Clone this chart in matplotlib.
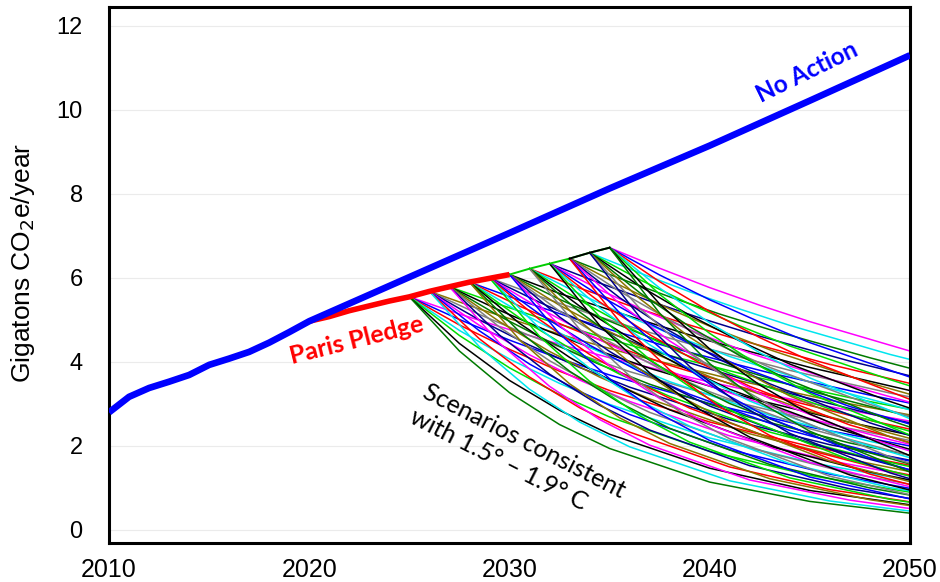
import matplotlib.pyplot as plt

# No Action path (Gt CO2e/yr)
na_years = [2010, 2011, 2012, 2013, 2014, 2015, 2016, 2017, 2018, 2019, 2020,
            2025, 2030, 2035, 2040, 2045, 2050]
na_values = [2.80, 3.17, 3.38, 3.53, 3.69, 3.93, 4.08, 4.24, 4.46, 4.71, 4.97,
             6.02, 7.07, 8.13, 9.15, 10.22, 11.30]

# Paris pledge path
pp_years = [2020, 2021, 2022, 2024, 2025, 2026, 2028, 2030]
pp_values = [4.97, 5.08, 5.22, 5.45, 5.55, 5.68, 5.90, 6.08]

# continuation of pledge path up to the last departure year
ext_years = [2030, 2031, 2032, 2033, 2034, 2035]
ext_values = [6.08, 6.22, 6.34, 6.46, 6.60, 6.72]

# scenarios: one row per pathway; values at departure, +2.5, +5, +7.5, +10 yr,
# then every 5 years, ending at 2050
s2025 = [[5.55, 5.14, 4.77, 4.42, 4.10, 3.52, 3.02, 2.59],
         [5.55, 5.01, 4.52, 4.08, 3.69, 3.01, 2.45, 2.00],
         [5.55, 4.88, 4.30, 3.78, 3.32, 2.57, 1.99, 1.54],
         [5.55, 4.75, 4.07, 3.49, 2.99, 2.19, 1.61, 1.18],
         [5.55, 4.63, 3.86, 3.22, 2.69, 1.87, 1.30, 0.90],
         [5.55, 4.44, 3.56, 2.85, 2.28, 1.47, 0.94, 0.60],
         [5.55, 4.26, 3.27, 2.51, 1.94, 1.14, 0.68, 0.40]]
s2026 = [[5.68, 5.26, 4.88, 4.52, 4.19, 3.60, 3.09, 2.74],
         [5.68, 5.13, 4.63, 4.18, 3.77, 3.08, 2.51, 2.13],
         [5.68, 5.00, 4.40, 3.87, 3.40, 2.63, 2.03, 1.66],
         [5.68, 4.87, 4.17, 3.57, 3.06, 2.24, 1.65, 1.29],
         [5.68, 4.74, 3.95, 3.30, 2.75, 1.91, 1.33, 0.99],
         [5.68, 4.55, 3.64, 2.91, 2.33, 1.50, 0.96, 0.67],
         [5.68, 4.36, 3.35, 2.57, 1.98, 1.17, 0.69, 0.45]]
s2027 = [[5.79, 5.37, 4.97, 4.61, 4.27, 3.67, 3.15, 2.87],
         [5.79, 5.23, 4.72, 4.26, 3.85, 3.14, 2.56, 2.26],
         [5.79, 5.09, 4.48, 3.94, 3.47, 2.68, 2.07, 1.78],
         [5.79, 4.96, 4.25, 3.64, 3.12, 2.29, 1.68, 1.39],
         [5.79, 4.83, 4.03, 3.36, 2.80, 1.95, 1.35, 1.09],
         [5.79, 4.64, 3.71, 2.97, 2.38, 1.53, 0.98, 0.75],
         [5.79, 4.45, 3.42, 2.63, 2.02, 1.19, 0.71, 0.51]]
s2028 = [[5.90, 5.47, 5.07, 4.70, 4.35, 3.74, 3.21, 3.02],
         [5.90, 5.33, 4.81, 4.34, 3.92, 3.20, 2.61, 2.40],
         [5.90, 5.19, 4.57, 4.02, 3.53, 2.73, 2.11, 1.91],
         [5.90, 5.05, 4.33, 3.71, 3.18, 2.33, 1.71, 1.51],
         [5.90, 4.92, 4.11, 3.43, 2.86, 1.99, 1.38, 1.19],
         [5.90, 4.72, 3.78, 3.03, 2.42, 1.56, 1.00, 0.83],
         [5.90, 4.53, 3.48, 2.67, 2.06, 1.22, 0.72, 0.58]]
s2029 = [[6.00, 5.56, 5.15, 4.77, 4.43, 3.80, 3.26, 3.17],
         [6.00, 5.42, 4.89, 4.41, 3.98, 3.25, 2.65, 2.55],
         [6.00, 5.28, 4.64, 4.08, 3.59, 2.78, 2.15, 2.04],
         [6.00, 5.14, 4.40, 3.77, 3.23, 2.37, 1.74, 1.64],
         [6.00, 5.01, 4.18, 3.49, 2.90, 2.02, 1.40, 1.31],
         [6.00, 4.80, 3.85, 3.08, 2.47, 1.58, 1.01, 0.93],
         [6.00, 4.61, 3.54, 2.72, 2.09, 1.24, 0.73, 0.66]]
s2030 = [[6.08, 5.63, 5.24, 4.86, 4.50, 3.87, 3.32],
         [6.08, 5.49, 4.97, 4.49, 4.05, 3.31, 2.70],
         [6.08, 5.35, 4.72, 4.15, 3.65, 2.82, 2.18],
         [6.08, 5.21, 4.48, 3.84, 3.29, 2.41, 1.77],
         [6.08, 5.07, 4.25, 3.55, 2.95, 2.06, 1.43],
         [6.08, 4.87, 3.91, 3.13, 2.51, 1.61, 1.03],
         [6.08, 4.67, 3.60, 2.77, 2.13, 1.26, 0.74]]
s2031 = [[6.22, 5.76, 5.34, 4.95, 4.59, 3.94, 3.49],
         [6.22, 5.62, 5.07, 4.58, 4.13, 3.37, 2.86],
         [6.22, 5.47, 4.81, 4.23, 3.73, 2.88, 2.35],
         [6.22, 5.33, 4.57, 3.92, 3.35, 2.46, 1.92],
         [6.22, 5.19, 4.33, 3.61, 3.01, 2.10, 1.57],
         [6.22, 4.98, 3.99, 3.19, 2.56, 1.64, 1.15],
         [6.22, 4.78, 3.67, 2.82, 2.17, 1.28, 0.84]]
s2032 = [[6.34, 5.88, 5.45, 5.05, 4.68, 4.02, 3.67],
         [6.34, 5.72, 5.17, 4.67, 4.21, 3.44, 3.04],
         [6.34, 5.58, 4.91, 4.32, 3.80, 2.94, 2.52],
         [6.34, 5.43, 4.65, 3.98, 3.42, 2.50, 2.08],
         [6.34, 5.29, 4.41, 3.68, 3.07, 2.14, 1.72],
         [6.34, 5.08, 4.06, 3.25, 2.61, 1.67, 1.28],
         [6.34, 4.87, 3.74, 2.87, 2.21, 1.31, 0.95]]
s2033 = [[6.46, 5.99, 5.55, 5.14, 4.77, 4.10, 3.85],
         [6.46, 5.83, 5.26, 4.75, 4.29, 3.50, 3.23],
         [6.46, 5.68, 5.00, 4.40, 3.87, 2.99, 2.70],
         [6.46, 5.53, 4.74, 4.06, 3.48, 2.55, 2.25],
         [6.46, 5.39, 4.50, 3.75, 3.13, 2.18, 1.88],
         [6.46, 5.17, 4.14, 3.31, 2.66, 1.71, 1.43],
         [6.46, 4.96, 3.81, 2.93, 2.25, 1.33, 1.08]]
s2034 = [[6.60, 6.12, 5.67, 5.26, 4.87, 4.18, 4.06],
         [6.60, 5.96, 5.38, 4.86, 4.38, 3.58, 3.43],
         [6.60, 5.81, 5.11, 4.50, 3.95, 3.06, 2.90],
         [6.60, 5.65, 4.84, 4.15, 3.56, 2.61, 2.45],
         [6.60, 5.51, 4.59, 3.83, 3.19, 2.22, 2.07],
         [6.60, 5.28, 4.23, 3.39, 2.71, 1.74, 1.59],
         [6.60, 5.07, 3.89, 2.99, 2.30, 1.36, 1.22]]
s2035 = [[6.72, 6.23, 5.77, 5.35, 4.96, 4.26],
         [6.72, 6.07, 5.48, 4.95, 4.46, 3.64],
         [6.72, 5.91, 5.20, 4.58, 4.03, 3.11],
         [6.72, 5.76, 4.93, 4.22, 3.62, 2.65],
         [6.72, 5.61, 4.68, 3.90, 3.25, 2.26],
         [6.72, 5.38, 4.31, 3.45, 2.76, 1.77],
         [6.72, 5.16, 3.96, 3.04, 2.35, 1.38]]

dep_years = [2025, 2026, 2027, 2028, 2029, 2030, 2031, 2032, 2033, 2034, 2035]
scenario_sets = [s2025, s2026, s2027, s2028, s2029, s2030,
                 s2031, s2032, s2033, s2034, s2035]

line_colors = ['#ff00ff', '#0000ff', '#ff0000', '#00e5ee', '#00dd00',
               '#000000', '#007a00', '#8b7500', '#808080', '#00008b']

fig = plt.figure(figsize=(9.4, 5.82), dpi=100)
ax = fig.add_axes([0.116, 0.067, 0.852, 0.921])

k = 0
for d, rows in zip(dep_years, scenario_sets):
    yrs = [d, d + 2.5, d + 5, d + 7.5] + list(range(d + 10, 2050, 5)) + [2050]
    for row in rows:
        ax.plot(yrs, row, color=line_colors[k % len(line_colors)], lw=1.1, zorder=2)
        k += 1

ax.plot(ext_years, ext_values, color='#00cc00', lw=1.4, zorder=3)
ax.plot(ext_years[3:], ext_values[3:], color='black', lw=1.4, zorder=3)
ax.plot(pp_years, pp_values, color='#ff0000', lw=4, solid_capstyle='butt', zorder=4)
ax.plot(na_years, na_values, color='#0000ff', lw=4.8, solid_capstyle='butt', zorder=5)

ax.text(2044.85, 10.9, 'No Action', color='#0000ff', fontsize=17.5, fontweight='bold',
        family='Lato', rotation=26, rotation_mode='anchor', ha='center', va='center')
ax.text(2022.35, 4.52, 'Paris Pledge', color='#ff0000', fontsize=18, fontweight='bold',
        family='Lato', rotation=14, rotation_mode='anchor', ha='center', va='center')
ax.text(2030.4, 1.82, 'Scenarios consistent\nwith 1.5\u00b0 \u2013 1.9\u00b0 C', color='black',
        fontsize=18, family='Lato', rotation=-27, rotation_mode='anchor',
        ha='center', va='center', multialignment='left', linespacing=1.3)

ax.set_xlim(2010, 2050)
ax.set_ylim(-0.31, 12.45)
ax.set_xticks([2010, 2020, 2030, 2040, 2050])
ax.set_yticks([0, 2, 4, 6, 8, 10, 12])
ax.grid(axis='y', color='#ebebeb', lw=0.8, zorder=0)
ax.set_axisbelow(True)

for s in ax.spines.values():
    s.set_linewidth(2.2)
    s.set_color('black')

ax.tick_params(axis='x', length=0, pad=11, labelsize=18)
ax.tick_params(axis='y', length=0, pad=19, labelsize=17)
for lab in ax.get_xticklabels() + ax.get_yticklabels():
    lab.set_family('Liberation Sans')

ax.set_ylabel('Gigatons CO$_2$e/year', fontsize=19, family='Liberation Sans')
ax.yaxis.set_label_coords(-0.09, 0.522)

fig.savefig('out.png', dpi=100)
